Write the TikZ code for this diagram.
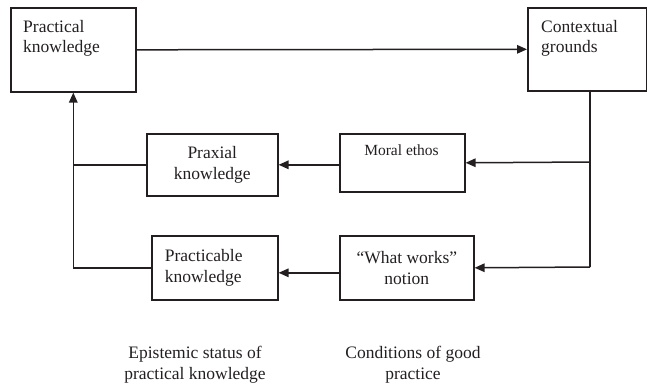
\documentclass[tikz,border=0pt]{standalone}
\usepackage{fontspec}
\setmainfont{Liberation Serif}
\usetikzlibrary{arrows.meta}
\definecolor{ink}{HTML}{231F20}
\begin{document}
\begin{tikzpicture}[x=1pt,y=-1pt,
  box/.style={draw=ink, line width=1.6pt, rectangle, inner sep=0pt},
  conn/.style={draw=ink, line width=1.5pt},
  arr/.style={conn, -{Triangle[length=10pt,width=8.5pt]}},
  txt/.style={text=ink, font=\fontsize{17.5}{20.5}\selectfont},
  smalltxt/.style={text=ink, font=\fontsize{15.5}{18}\selectfont}]
\useasboundingbox (0,0) rectangle (647,386);

% boxes
\node[box, anchor=north west, minimum width=125pt, minimum height=84pt] (pk) at (10,7) {};
\node[txt, anchor=north west, inner sep=0pt, align=left] (pkt) at (23,20) {Practical\\knowledge};

\node[box, anchor=north west, minimum width=119pt, minimum height=83pt] (cg) at (527,7) {};
\node[txt, anchor=north west, inner sep=0pt, align=left] (cgt) at (541,20) {Contextual\\grounds};

\node[box, txt, anchor=north west, minimum width=131pt, minimum height=62pt, align=center] (px) at (146,133) {Praxial\\knowledge};

\node[box, anchor=north west, minimum width=125pt, minimum height=58pt] (me) at (339,133) {};
\node[smalltxt, anchor=north, inner sep=0pt] (met) at (401.5,145) {Moral ethos};

\node[box, txt, anchor=north west, minimum width=126pt, minimum height=64pt, text width=100pt, inner xsep=13pt, align=left] (pc) at (151,235) {Practicable\\knowledge};

\node[box, txt, anchor=north west, minimum width=134pt, minimum height=64pt, align=center] (ww) at (339,235) {``What works''\\notion};

% bottom labels
\node[txt, anchor=north, inner sep=0pt, align=center] (l1) at (195,346) {Epistemic status of\\practical knowledge};
\node[txt, anchor=north, inner sep=0pt, align=center] (l2) at (413,346) {Conditions of good\\practice};

% connectors
\draw[arr] (pk.east) -- (cg.west);
\coordinate (j1) at (590,162);
\coordinate (j2) at (590,267);
\draw[conn] (cg.south -| j1) -- (j2);
\draw[arr] (j1) -- (me.east);
\draw[arr] ([yshift=-2pt]me.west) -- ([yshift=-2pt]me.west -| px.east);
\draw[arr] ([yshift=-5pt]ww.west) -- ([yshift=-5pt]ww.west -| pc.east);
\draw[arr] (j2) -- (ww.east);
\draw[arr] (px.west) -| (pk.south);
\draw[conn] (pc.west) -| (px.west -| pk.south);
\end{tikzpicture}
\end{document}
